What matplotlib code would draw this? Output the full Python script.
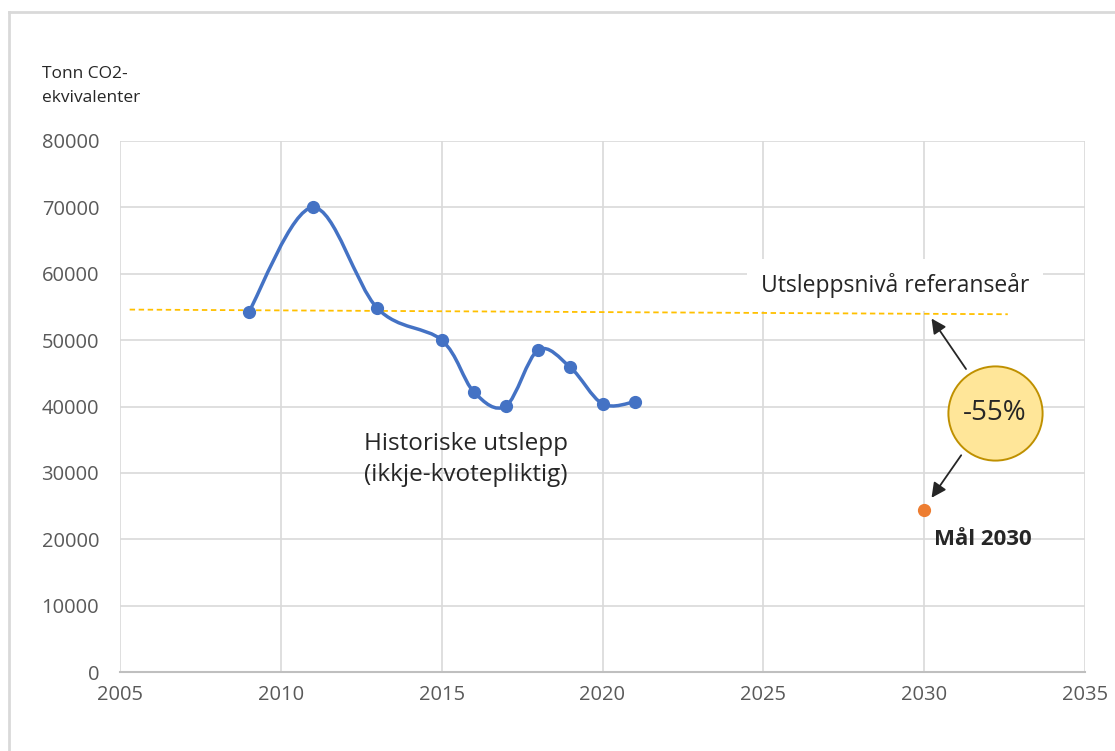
import matplotlib
matplotlib.use('Agg')
import matplotlib.pyplot as plt
from matplotlib.path import Path
from matplotlib.patches import PathPatch
from matplotlib.lines import Line2D
import numpy as np

plt.rcParams['font.family'] = ['Open Sans', 'DejaVu Sans']

# historical emissions (tonn CO2-ekv.)
years = [2009, 2011, 2013, 2015, 2016, 2017, 2018, 2019, 2020, 2021]
emissions = [54200, 70000, 54800, 50000, 42200, 40100, 48500, 45900, 40400, 40700]

# target 2030
goal_year = [2030]
goal_value = [24400]

# reference level line (drawn slightly tilted in the original)
ref_x = [2005.3, 2032.6]
ref_y = [54600, 53900]

x_ticks = [2005, 2010, 2015, 2020, 2025, 2030, 2035]
y_ticks = [0, 10000, 20000, 30000, 40000, 50000, 60000, 70000, 80000]

blue = '#4472C4'
orange = '#ED7D31'
gold = '#FFC000'
grid_c = '#D9D9D9'
tick_c = '#595959'

fig = plt.figure(figsize=(11.15, 7.51), dpi=100)
ax = fig.add_axes([120/1115, 1-672/751, 965/1115, 531/751])

# outer chart border
fig.add_artist(Line2D([8.5/1115, 8.5/1115], [0, 1-11.5/751], color='#D9D9D9', lw=2, transform=fig.transFigure))
fig.add_artist(Line2D([8.5/1115, 1], [1-11.5/751, 1-11.5/751], color='#D9D9D9', lw=2, transform=fig.transFigure))

ax.set_xlim(2005, 2035)
ax.set_ylim(0, 80000)
ax.set_xticks(x_ticks)
ax.set_yticks(y_ticks)
ax.grid(True, color=grid_c, lw=1.2)
ax.set_axisbelow(True)
for s in ['left', 'right', 'top']:
    ax.spines[s].set_visible(False)
ax.spines['bottom'].set_color('#BFBFBF')
ax.spines['bottom'].set_linewidth(1.5)
ax.tick_params(length=0, labelsize=14.5, colors=tick_c, pad=15)
ax.tick_params(axis='x', pad=9)

# smoothed line, Excel style (Bezier with Catmull-Rom tangents)
pts = np.column_stack([years, emissions]).astype(float)
verts = [pts[0]]
codes = [Path.MOVETO]
n = len(pts)
for i in range(n - 1):
    p0 = pts[max(i - 1, 0)]
    p1 = pts[i]
    p2 = pts[i + 1]
    p3 = pts[min(i + 2, n - 1)]
    c1 = p1 + (p2 - p0) / 6
    c2 = p2 - (p3 - p1) / 6
    verts += [c1, c2, p2]
    codes += [Path.CURVE4] * 3
ax.add_patch(PathPatch(Path(verts, codes), fill=False, edgecolor=blue, lw=2.5, zorder=3))
ax.plot(years, emissions, 'o', color=blue, ms=8.5, zorder=4)

ax.plot(ref_x, ref_y, '--', color=gold, lw=1.3, dashes=(3, 2), zorder=2)
ax.plot(goal_year, goal_value, 'o', color=orange, ms=8.5, zorder=4)

ax.text(2012.6, 32000, 'Historiske utslepp\n(ikkje-kvotepliktig)', fontsize=17.5, color='#262626',
        ha='left', va='center', linespacing=1.4)
ax.text(2029.1, 58300, 'Utsleppsnivå referanseår', fontsize=16.5, color='#262626',
        ha='center', va='center',
        bbox=dict(boxstyle='square,pad=0.6', fc='white', ec='none'), zorder=5)
ax.text(2030.3, 20000, 'Mål 2030', fontsize=16, fontweight='bold', color='#262626',
        ha='left', va='center')

# arrows to the -55% bubble
ax.annotate('', xy=(2030.18, 53600), xytext=(2031.35, 45300),
            arrowprops=dict(arrowstyle='-|>', color='#262626', lw=1.3, mutation_scale=22), zorder=5)
ax.annotate('', xy=(2030.18, 25900), xytext=(2031.2, 33000),
            arrowprops=dict(arrowstyle='-|>', color='#262626', lw=1.3, mutation_scale=22), zorder=5)
ax.scatter([2032.2], [39000], s=4600, facecolor='#FFE699', edgecolor='#BF9000', lw=1.4, zorder=6, clip_on=False)
ax.text(2032.2, 39000, '-55%', fontsize=20, color='#262626', ha='center', va='center', zorder=7)

fig.text(42/1115, 1-86/751, 'Tonn CO2-\nekvivalenter', fontsize=12.5, color='#262626',
         ha='left', va='center', linespacing=1.6)

fig.savefig('out.png', dpi=100, facecolor='white')
